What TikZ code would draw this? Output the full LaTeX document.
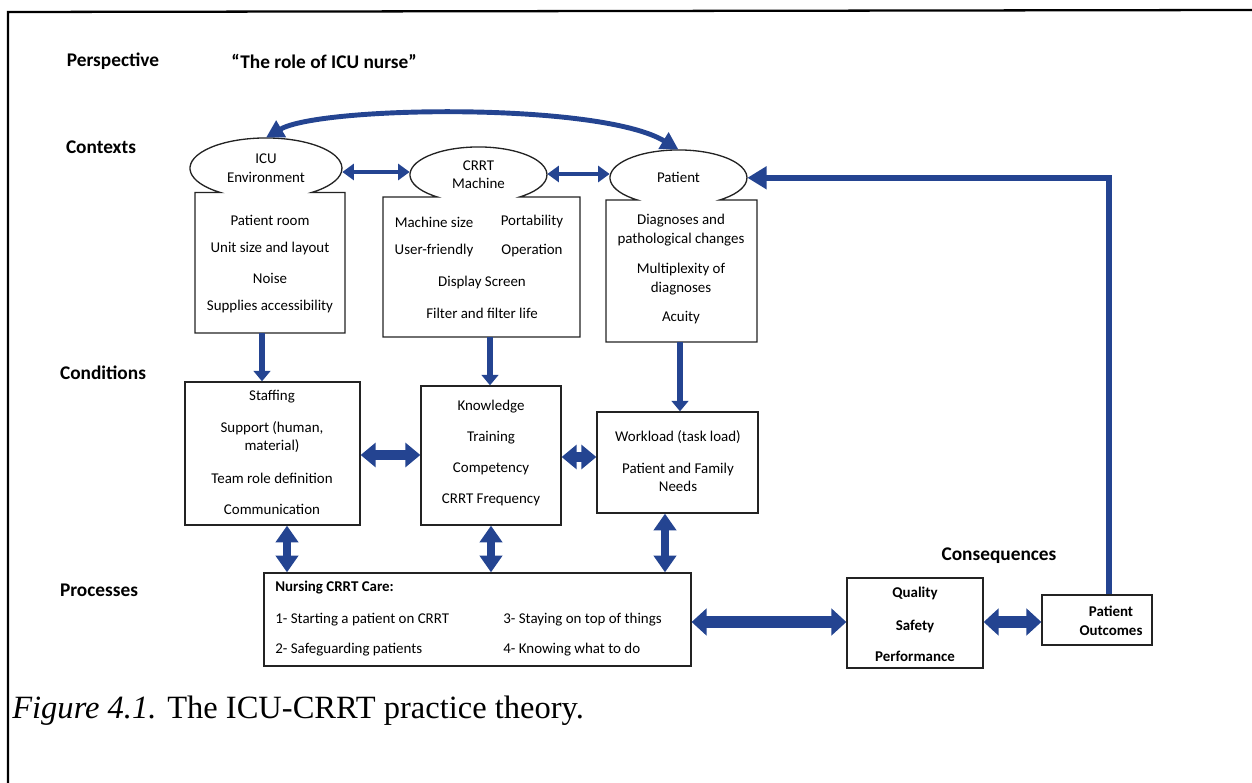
\documentclass[tikz,border=0pt]{standalone}
\usepackage{fontspec}
\setmainfont{Carlito}
\newfontfamily\capfont{Liberation Serif}
\usetikzlibrary{arrows.meta,shapes.geometric}
\definecolor{arrowblue}{RGB}{36,68,145}
\definecolor{boxline}{RGB}{35,35,35}
\tikzset{
  body/.style={font=\fontsize{8.5}{10.6}\selectfont, inner sep=0pt, align=center},
  bbody/.style={font=\fontsize{8.5}{10.6}\selectfont\bfseries, inner sep=0pt, align=center},
  lbl/.style={font=\fontsize{11}{13}\selectfont\bfseries, inner sep=0pt},
  box/.style={draw=boxline, line width=0.75pt, fill=white, inner sep=0pt},
  anc/.style={draw=none, inner sep=0pt},
  outl/.style={draw=boxline, line width=0.75pt, fill=white},
  ellarrow/.style={draw=arrowblue, line width=2.6pt, arrows={Triangle[length=6.5pt,width=9pt]-Triangle[length=6.5pt,width=9pt]}},
  downarrow/.style={draw=arrowblue, line width=3.2pt, arrows={-Triangle[length=6pt,width=9.5pt]}},
  hmid/.style={draw=arrowblue, line width=5.5pt, arrows={Triangle[length=8.5pt,width=13.5pt]-Triangle[length=8.5pt,width=13.5pt]}},
  vproc/.style={draw=arrowblue, line width=5pt, arrows={Triangle[length=9.5pt,width=12.5pt]-Triangle[length=9.5pt,width=12.5pt]}},
  hbig/.style={draw=arrowblue, line width=6.5pt, arrows={Triangle[length=8.5pt,width=15pt]-Triangle[length=8.5pt,width=15pt]}},
  fback/.style={draw=arrowblue, line width=3.4pt, line join=miter, arrows={-Triangle[length=11pt,width=12.5pt]}},
  curvearrow/.style={draw=arrowblue, line width=2.8pt, arrows={Triangle[length=10pt,width=10.5pt]-Triangle[length=10pt,width=10.5pt]}}
}
\begin{document}
\begin{tikzpicture}[x=0.02cm,y=-0.02cm]
\useasboundingbox (0,0) rectangle (1252,783);
% frame
\draw[line width=1.3pt] (8,783) -- (8,12) -- (1252,10);

% labels
\node[lbl] (lpersp) at (113,61) {Perspective};
\node[lbl] (lrole) at (324,61) {“The role of ICU nurse”};
\node[lbl] (lctx) at (101,147) {Contexts};
\node[lbl] (lcond) at (103,373) {Conditions};
\node[lbl] (lproc) at (99,590) {Processes};
\node[lbl] (lcons) at (999,556) {Consequences};

% context shapes (ellipse merged with rectangle)
\draw[outl] (195,333) -- (195,192.5) -- (220.4,192.5)
  arc[start angle=126.87, end angle=413.13, x radius=76, y radius=30.3]
  -- (345,192.5) -- (345,333) -- cycle;
\draw[outl] (383,337) -- (383,197) -- (437.4,197)
  arc[start angle=126.87, end angle=413.13, x radius=68.5, y radius=27.8]
  -- (580,197) -- (580,337) -- cycle;
\draw[outl] (606,342) -- (606,200) -- (637.4,200)
  arc[start angle=126.87, end angle=413.13, x radius=68.5, y radius=27.8]
  -- (757,200) -- (757,342) -- cycle;

\node[anc, ellipse, minimum width=3.04cm, minimum height=1.212cm, body] (icuE) at (266,168.3) {ICU\\Environment};
\node[anc, minimum width=3cm, minimum height=2.81cm] (icubox) at (270,262.75) {};
\node[anc, ellipse, minimum width=2.74cm, minimum height=1.112cm, body] (crrtE) at (478.5,174.8) {CRRT\\Machine};
\node[anc, minimum width=3.94cm, minimum height=2.8cm] (crrtbox) at (481.5,267) {};
\node[anc, ellipse, minimum width=2.74cm, minimum height=1.112cm, body] (patE) at (678.5,177.8) {Patient};
\node[anc, minimum width=3.02cm, minimum height=2.84cm] (patbox) at (681.5,271) {};

% context texts
\node[body] (i1) at (270,220) {Patient room};
\node[body] (i2) at (270,249) {Unit size and layout};
\node[body] (i3) at (270,278) {Noise};
\node[body] (i4) at (270,307) {Supplies accessibility};

\node[body] (c1) at (434,222) {Machine size};
\node[body] (c2) at (532,222) {Portability};
\node[body] (c3) at (434,251) {User-friendly};
\node[body] (c4) at (532,251) {Operation};
\node[body] (c5) at (482,283) {Display Screen};
\node[body] (c6) at (482,313) {Filter and filter life};

\node[body] (p1) at (681,230) {Diagnoses and\\pathological changes};
\node[body] (p2) at (681,279) {Multiplexity of\\diagnoses};
\node[body] (p3) at (681,318) {Acuity};

% condition boxes
\node[box, minimum width=3.5cm, minimum height=2.86cm] (staff) at (272.5,453.5) {};
\node[box, minimum width=2.8cm, minimum height=2.78cm] (know) at (491,455.5) {};
\node[box, minimum width=3.22cm, minimum height=2.02cm] (work) at (677.5,462.5) {};

\node[body] (s1) at (272,397) {Staffing};
\node[body] (s2) at (272,437) {Support (human,\\material)};
\node[body] (s3) at (272,478) {Team role definition};
\node[body] (s4) at (272,509) {Communication};

\node[body] (k1) at (491,407) {Knowledge};
\node[body] (k2) at (491,438) {Training};
\node[body] (k3) at (491,469) {Competency};
\node[body] (k4) at (491,500) {CRRT Frequency};

\node[body] (w1) at (678,437) {Workload (task load)};
\node[body] (w2) at (678,477.5) {Patient and Family\\Needs};

% process box
\node[box, minimum width=8.54cm, minimum height=1.86cm] (nurs) at (477.5,619.5) {};
\node[bbody, anchor=west] (n0) at (275,588) {Nursing CRRT Care:};
\node[body, anchor=west] (n1) at (275,620) {1- Starting a patient on CRRT};
\node[body, anchor=west] (n3) at (503,620) {3- Staying on top of things};
\node[body, anchor=west] (n2) at (275,650) {2- Safeguarding patients};
\node[body, anchor=west] (n4) at (503,650) {4- Knowing what to do};

% consequences
\node[box, minimum width=2.72cm, minimum height=1.8cm] (qual) at (915,623) {};
\node[bbody] (q1) at (915,593) {Quality};
\node[bbody] (q2) at (915,626) {Safety};
\node[bbody] (q3) at (915,656) {Performance};
\node[box, minimum width=2.2cm, minimum height=1.0cm] (po) at (1097,620) {};
\node[bbody] (pot) at (1111,621) {Patient\\Outcomes};

% caption
\node[anchor=west, inner sep=0pt, font=\capfont\fontsize{18.5}{21}\selectfont] (cap) at (12,711) {\textit{Figure 4.1.} The ICU-CRRT practice theory.};

% arrows
\draw[curvearrow] (icuE.north) .. controls (320,106) and (600,102) .. (patE.north);
\draw[ellarrow] (icuE.east |- 0,172) -- (crrtE.west |- 0,172);
\draw[ellarrow] (crrtE.east |- 0,174) -- (patE.west |- 0,174);
\draw[fback] (1109,0 |- po.north) -- (1109,0 |- patE.east) -- (patE.east);

\draw[downarrow] (262,0 |- icubox.south) -- (262,0 |- staff.north);
\draw[downarrow] (490,0 |- crrtbox.south) -- (490,0 |- know.north);
\draw[downarrow] (680,0 |- patbox.south) -- (680,0 |- work.north);

\draw[hmid] (staff.east |- 0,455) -- (know.west |- 0,455);
\draw[hmid] (know.east |- 0,457) -- (work.west |- 0,457);

\draw[vproc] (287,0 |- staff.south) -- (287,0 |- nurs.north);
\draw[vproc] (know.south) -- (know.south |- nurs.north);
\draw[vproc] (665,0 |- work.south) -- (665,0 |- nurs.north);

\draw[hbig] (nurs.east |- 0,622) -- (qual.west |- 0,622);
\draw[hbig] (qual.east |- 0,622) -- (po.west |- 0,622);
\end{tikzpicture}
\end{document}
